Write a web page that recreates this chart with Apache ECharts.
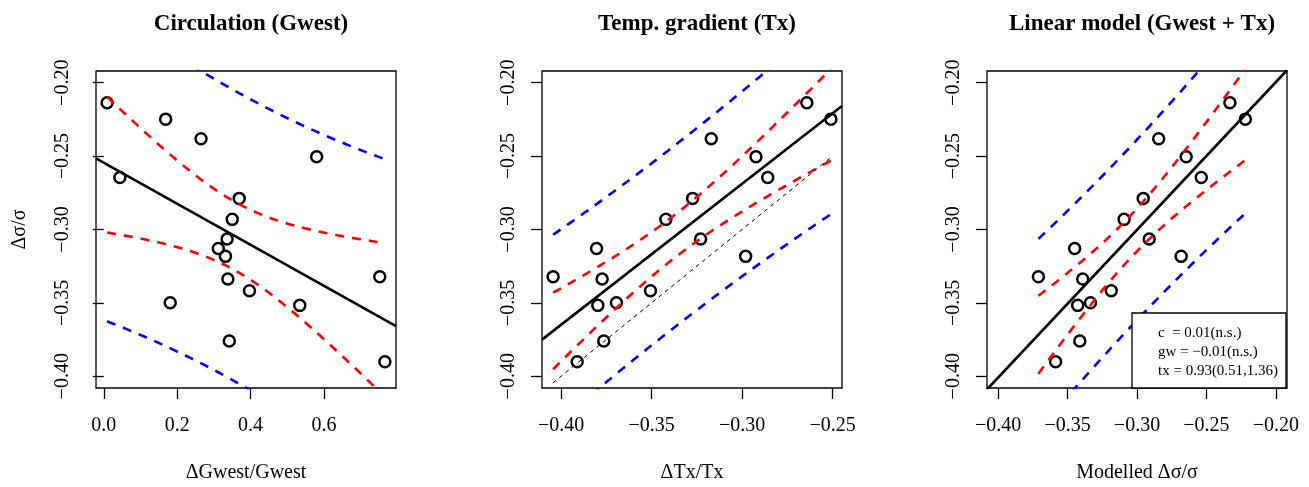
<!DOCTYPE html>
<html><head><meta charset="utf-8">
<script src="https://cdn.jsdelivr.net/npm/echarts@6/dist/echarts.min.js"></script>
<style>html,body{margin:0;padding:0;background:#fff}#c{width:1309px;height:487px}</style>
</head><body><div id="c"></div>
<script>
// ---- data ----
const dSigma   = [-0.2136,-0.2248,-0.2381,-0.2504,-0.2645,-0.2788,-0.2931,-0.3065,-0.3129,-0.3183,-0.3337,-0.3417,-0.3499,-0.3517,-0.3322,-0.3760,-0.3901];
const dGwest   = [0.009,0.1685,0.265,0.580,0.0437,0.369,0.350,0.336,0.312,0.3315,0.338,0.397,0.181,0.534,0.752,0.342,0.766];
const dTx      = [-0.2642,-0.2509,-0.3170,-0.2923,-0.2858,-0.3273,-0.3421,-0.3229,-0.3804,-0.2980,-0.3773,-0.3506,-0.3694,-0.3797,-0.4044,-0.3764,-0.3911];
const modelled = [-0.2331,-0.2220,-0.2844,-0.2646,-0.2537,-0.2955,-0.3093,-0.2912,-0.3449,-0.2682,-0.3391,-0.3185,-0.3335,-0.3427,-0.3710,-0.3412,-0.3586];
const titles = ['Circulation (Gwest)','Temp. gradient (Tx)','Linear model (Gwest + Tx)'];
const xNames = ['\u0394Gwest/Gwest','\u0394Tx/Tx','Modelled \u0394\u03c3/\u03c3'];
const yName = '\u0394\u03c3/\u03c3';
const yTicks  = [-0.40,-0.35,-0.30,-0.25,-0.20];
const xTicks1 = [0.0,0.2,0.4,0.6];
const xTicks2 = [-0.40,-0.35,-0.30,-0.25];
const xTicks3 = [-0.40,-0.35,-0.30,-0.25,-0.20];
const yLim = [-0.40,-0.20];
const xLim3 = [-0.40,-0.20];
const coefText = ['c  = 0.01(n.s.)','gw = \u22120.01(n.s.)','tx = 0.93(0.51,1.36)'];
const tCrit = 2.131; // t(0.975, df=15)

// ---- helpers ----
function ext(lim){const r=lim[1]-lim[0];return [lim[0]-0.04*r, lim[1]+0.04*r];}
function rng(a){return [Math.min(...a), Math.max(...a)];}
function fit(x,y){
  const n=x.length; let mx=0,my=0;
  for(let i=0;i<n;i++){mx+=x[i];my+=y[i];} mx/=n; my/=n;
  let sxx=0,sxy=0; for(let i=0;i<n;i++){sxx+=(x[i]-mx)**2; sxy+=(x[i]-mx)*(y[i]-my);}
  const b=sxy/sxx, a=my-b*mx; let sse=0;
  for(let i=0;i<n;i++){sse+=(y[i]-a-b*x[i])**2;}
  return {a,b,mx,sxx,n,s:Math.sqrt(sse/(n-2))};
}
function bandLines(f,x){
  const [lo,hi]=rng(x); const N=80; const ci=[[],[]], pi=[[],[]];
  for(let k=0;k<=N;k++){
    const xv=lo+(hi-lo)*k/N, yv=f.a+f.b*xv;
    const se=Math.sqrt(1/f.n+(xv-f.mx)**2/f.sxx);
    const sp=Math.sqrt(1+1/f.n+(xv-f.mx)**2/f.sxx);
    ci[0].push([xv,yv-tCrit*f.s*se]); ci[1].push([xv,yv+tCrit*f.s*se]);
    pi[0].push([xv,yv-tCrit*f.s*sp]); pi[1].push([xv,yv+tCrit*f.s*sp]);
  }
  return {ci,pi};
}
const fmt=(d)=>(v)=>Number(v).toFixed(d).replace('-','\u2212');
const font='Liberation Serif';

const panels=[
  {x:dGwest, ticks:xTicks1, xr:ext(rng(dGwest)), dec:1, left:96},
  {x:dTx, ticks:xTicks2, xr:ext(rng(dTx)), dec:2, left:542, identity:true},
  {x:modelled, ticks:xTicks3, xr:ext(xLim3), dec:2, left:987}
];
const yr=ext(yLim);

const grid=[],xAxis=[],yAxis=[],series=[],title=[];
panels.forEach((p,i)=>{
  grid.push({left:p.left, top:71, width:300, height:317, containLabel:false, outerBoundsMode:'none',
    show:true, borderColor:'#000', borderWidth:1.3, backgroundColor:'transparent'});
  title.push({text:titles[i], left:p.left+150, top:8, textAlign:'center',
    textStyle:{fontFamily:font, fontWeight:'bold', fontSize:23, color:'#000'}});
  xAxis.push({type:'value', gridIndex:i, min:p.xr[0], max:p.xr[1], splitLine:{show:false},
    axisLine:{show:false}, name:xNames[i], nameLocation:'middle', nameGap:75,
    nameTextStyle:{fontFamily:font, fontSize:20, color:'#000'},
    axisTick:{show:true, customValues:p.ticks, length:11, lineStyle:{color:'#000', width:1.3}},
    axisLabel:{customValues:p.ticks, formatter:fmt(p.dec), margin:28, fontFamily:font, fontSize:20, color:'#000'}});
  yAxis.push({type:'value', gridIndex:i, min:yr[0], max:yr[1], splitLine:{show:false},
    axisLine:{show:false}, name:i===0?yName:'', nameLocation:'middle', nameGap:66, nameRotate:90,
    nameTextStyle:{fontFamily:font, fontSize:20, color:'#000'},
    axisTick:{show:true, customValues:yTicks, length:11, lineStyle:{color:'#000', width:1.3}},
    axisLabel:{customValues:yTicks, formatter:fmt(2), rotate:90, margin:23, fontFamily:font, fontSize:20, color:'#000'}});
  const f=fit(p.x,dSigma);
  const b=bandLines(f,p.x);
  series.push({type:'scatter', xAxisIndex:i, yAxisIndex:i, data:p.x.map((v,k)=>[v,dSigma[k]]),
    symbol:'circle', symbolSize:11, itemStyle:{color:'rgba(255,255,255,0)', borderColor:'#000', borderWidth:2.5, opacity:1}, z:3});
  const line=(data,color,width,type)=>({type:'line', xAxisIndex:i, yAxisIndex:i, data, showSymbol:false, symbol:'none',
    clip:true, silent:true, lineStyle:{color, width, type}, z:4});
  series.push(line([[p.xr[0],f.a+f.b*p.xr[0]],[p.xr[1],f.a+f.b*p.xr[1]]],'#000',2.6,'solid'));
  series.push(line(b.ci[0],'#ff0000',2.6,[9,8]));
  series.push(line(b.ci[1],'#ff0000',2.6,[9,8]));
  series.push(line(b.pi[0],'#0000ff',2.6,[9,8]));
  series.push(line(b.pi[1],'#0000ff',2.6,[9,8]));
  if(p.identity){const r=rng(p.x); series.push(line([[r[0],r[0]],[r[1],r[1]]],'#000',1,[4,4]));}
});

const graphic=[
  {type:'rect', shape:{x:1132, y:313, width:154, height:75}, style:{fill:'#fff', stroke:'#000', lineWidth:1.3}, z:10},
  ...coefText.map((t,k)=>({type:'text', x:1158, y:333+k*19, style:{text:t, fill:'#000', font:'15px "Liberation Serif"', textVerticalAlign:'middle'}, z:11}))
];

const chart=echarts.init(document.getElementById('c'),null,{renderer:'canvas'});
chart.setOption({animation:false, backgroundColor:'#fff', title, grid, xAxis, yAxis, series, graphic});
</script></body></html>
